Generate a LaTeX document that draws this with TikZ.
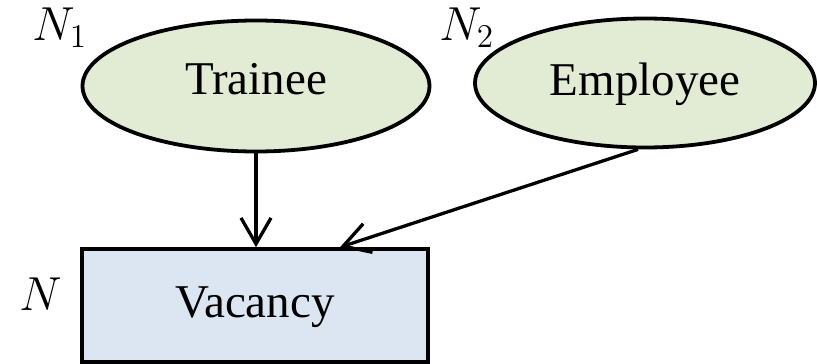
\documentclass[tikz,border=0pt]{standalone}
\usepackage{fontspec}
\setmainfont{Liberation Serif}
\usetikzlibrary{shapes.geometric,arrows.meta}
\definecolor{entityfill}{HTML}{E2ECD5}
\definecolor{targetfill}{HTML}{DCE6F2}
\tikzset{
  entity/.style={ellipse, draw=black, line width=3.8pt, fill=entityfill,
    inner sep=0pt, text height=32pt, font=\fontsize{47}{56}\selectfont},
  target/.style={rectangle, draw=black, line width=3.6pt, fill=targetfill,
    inner sep=0pt, minimum width=346pt, minimum height=113pt,
    text height=32pt, font=\fontsize{47}{56}\selectfont},
  countlabel/.style={anchor=base west, inner sep=0pt, scale=2.3, font=\huge},
  link/.style={line width=3.3pt, -{Straight Barb[length=26pt,width=30pt,line width=3.3pt]}}
}
\begin{document}
\begin{tikzpicture}[x=1pt, y=-1pt]
  \useasboundingbox (0,0) rectangle (817,364);
  % source nodes
  \node[entity, text depth=16pt, minimum width=347pt, minimum height=131pt] (trainee) at (256,86) {Trainee};
  \node[entity, text depth=8pt, minimum width=340pt, minimum height=129pt] (employee) at (645,83) {Employee};
  % target node
  \node[target, text depth=9pt] (vacancy) at (255,305.5) {Vacancy};
  % counts
  \node[countlabel] (n1) at (32,40) {$N_1$};
  \node[countlabel] (n2) at (439,40) {$N_2$};
  \node[countlabel] (n) at (19,310) {$N$};
  % arrows
  \coordinate (tin) at (trainee.south |- vacancy.north);
  \coordinate (ein) at ([xshift=85pt]vacancy.north);
  \coordinate (eout) at ([xshift=-7pt]employee.south);
  \draw[link] (trainee.south) -- (tin);
  \draw[link] (eout) -- (ein);
\end{tikzpicture}
\end{document}
